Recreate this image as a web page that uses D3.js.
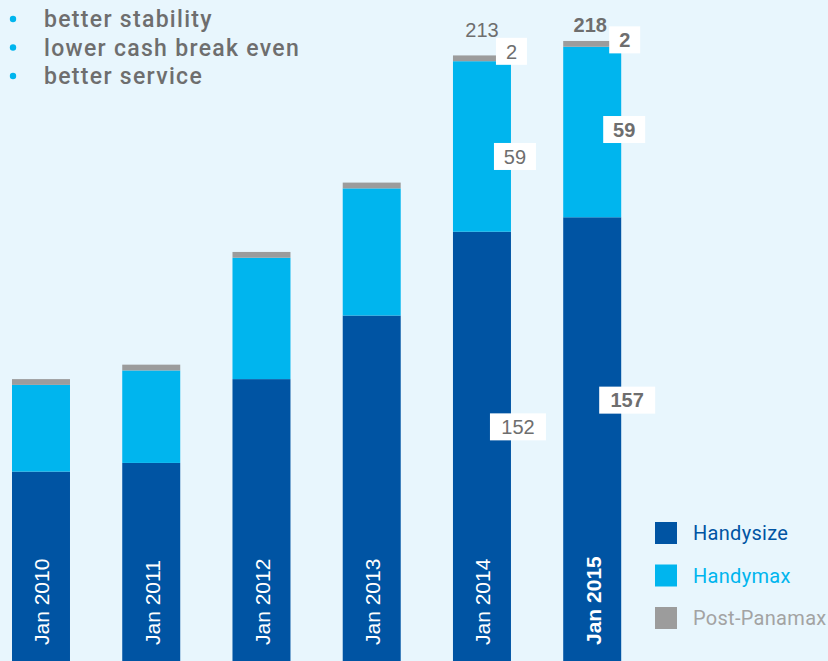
<!DOCTYPE html>
<html><head><meta charset="utf-8">
<script src="https://cdn.jsdelivr.net/npm/d3@7"></script>
<style>
html,body{margin:0;padding:0;background:#e8f6fd;overflow:hidden;}
svg{display:block;}
</style></head>
<body>
<script>
// ---- data ----
const categories = ["Jan 2010","Jan 2011","Jan 2012","Jan 2013","Jan 2014","Jan 2015"];
const handysize = [69, 72, 101, 123, 152, 157];
const handymax  = [30, 32, 42, 44, 59, 59];
const postPanamax = [2, 2, 2, 2, 2, 2];
const seriesNames = ["Handysize","Handymax","Post-Panamax"];
const bullets = ["better stability","lower cash break even","better service"];
// labelled bars (index)
const labelled = [4, 5];

const W = 828, H = 661;
const colors = {"Handysize":"#0054a3","Handymax":"#00b5ee","Post-Panamax":"#9c9c9c"};
const textGray = "#6e6e6e";

const svg = d3.select("body").append("svg").attr("width", W).attr("height", H);
svg.append("rect").attr("width", W).attr("height", H).attr("fill", "#e8f6fd");

const x = d3.scaleBand().domain(categories).range([12, 621.2]).paddingInner(0.474).paddingOuter(0);
const y = d3.scaleLinear().domain([0, 250]).range([671, 671 - 2.89 * 250]);

const rows = categories.map((c, i) => ({cat: c, "Handysize": handysize[i], "Handymax": handymax[i], "Post-Panamax": postPanamax[i]}));
const stack = d3.stack().keys(seriesNames)(rows);

svg.append("g").selectAll("g").data(stack).join("g")
  .attr("fill", d => colors[d.key])
  .selectAll("rect").data(d => d).join("rect")
  .attr("x", d => x(d.data.cat))
  .attr("width", x.bandwidth())
  .attr("y", d => y(d[1]))
  .attr("height", d => y(d[0]) - y(d[1]));

// category labels inside bars (rotated)
svg.append("g").selectAll("text").data(categories).join("text")
  .attr("transform", d => `translate(${x(d) + x.bandwidth()/2 + 1},645) rotate(-90)`)
  .attr("dy", "0.35em")
  .attr("text-anchor", "start")
  .attr("fill", "#ffffff")
  .attr("font-family", "'Liberation Sans', Arial, sans-serif")
  .attr("font-size", 21)
  .attr("font-weight", (d, i) => i === categories.length - 1 ? "bold" : "normal")
  .text(d => d);

// value labels with white boxes
const segOffsets = { // [dx from bar right edge, dy from segment middle]
  4: {"Handysize": [7, -24.5], "Handymax": [4, 10], "Post-Panamax": [0.5, -7]},
  5: {"Handysize": [6, -44], "Handymax": [3, -2.5], "Post-Panamax": [3.5, -4]}
};
const totalOffsets = {4: [0, -18], 5: [-2, -9]};
const lg = svg.append("g").attr("font-family", "'Liberation Sans', Arial, sans-serif").attr("font-size", 20);
labelled.forEach(i => {
  const bold = i === categories.length - 1;
  stack.forEach(s => {
    const d = s[i];
    const val = d[1] - d[0];
    const off = segOffsets[i][s.key];
    const cx = x(categories[i]) + x.bandwidth() + off[0];
    const cy = (y(d[0]) + y(d[1])) / 2 + off[1];
    const txt = String(val);
    const bw = txt.length === 1 ? 31 : txt.length === 2 ? 42 : 56;
    lg.append("rect").attr("x", cx - bw/2).attr("y", cy - 13.5).attr("width", bw).attr("height", 27).attr("fill", "#ffffff");
    lg.append("text").attr("x", cx).attr("y", cy).attr("dy", "0.36em").attr("text-anchor", "middle")
      .attr("fill", textGray).attr("font-weight", bold ? "bold" : "normal").text(txt);
  });
  const total = handysize[i] + handymax[i] + postPanamax[i];
  lg.append("text")
    .attr("x", x(categories[i]) + x.bandwidth()/2 + totalOffsets[i][0])
    .attr("y", y(total) + totalOffsets[i][1])
    .attr("text-anchor", "middle").attr("fill", textGray)
    .attr("font-weight", bold ? "bold" : "normal").text(total);
});

// bullets
const bg = svg.append("g");
bullets.forEach((b, i) => {
  const by = 27 + i * 28.5;
  bg.append("circle").attr("cx", 13).attr("cy", by - 8).attr("r", 3.2).attr("fill", "#00b5ee");
  bg.append("text").attr("x", 44).attr("y", by)
    .attr("font-family", "Roboto, sans-serif").attr("font-weight", 500).attr("font-size", 23)
    .attr("letter-spacing", 1.3).attr("fill", textGray).text(b);
});

// legend
const leg = svg.append("g");
seriesNames.forEach((n, i) => {
  const ly = 522 + i * 42.5;
  leg.append("rect").attr("x", 655).attr("y", ly).attr("width", 22).attr("height", 22).attr("fill", colors[n]);
  leg.append("text").attr("x", 693).attr("y", ly + 11).attr("dy", "0.36em")
    .attr("font-family", "Roboto, sans-serif").attr("font-size", 20)
    .attr("letter-spacing", 0.3)
    .attr("fill", n === "Post-Panamax" ? "#a3a3a3" : colors[n]).text(n);
});
</script>
</body></html>
